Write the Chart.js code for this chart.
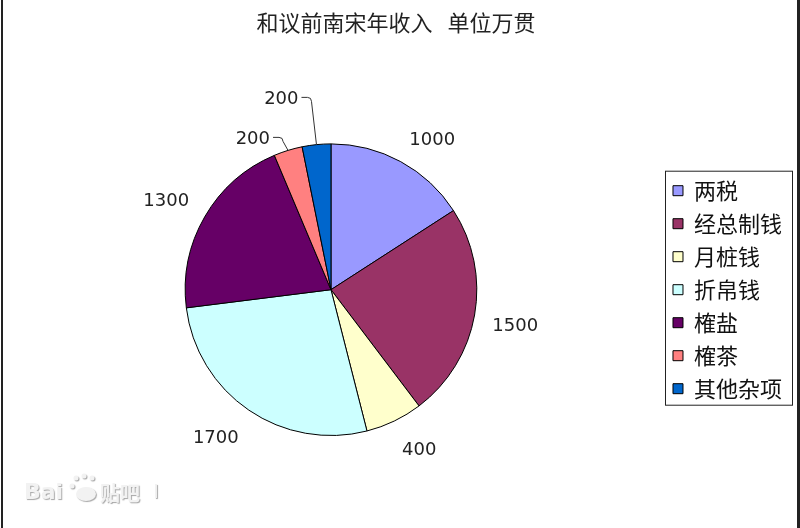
<!DOCTYPE html>
<html>
<head>
<meta charset="utf-8">
<script src="https://cdn.jsdelivr.net/npm/chart.js@4.4.0/dist/chart.umd.min.js"></script>
<style>
  html, body { margin: 0; padding: 0; background: #fff; }
  #wrap { width: 800px; height: 528px; position: relative; }
</style>
</head>
<body>
<div id="wrap"><canvas id="pie" width="800" height="528"></canvas></div>
<script>
// 数据
const titleText = '和议前南宋年收入   单位万贯';
const categories = ['两税', '经总制钱', '月桩钱', '折帛钱', '榷盐', '榷茶', '其他杂项'];
const values = [1000, 1500, 400, 1700, 1300, 200, 200];
const colors = ['#9999FF', '#993366', '#FFFFCC', '#CCFFFF', '#660066', '#FF8080', '#0066CC'];

// 数值标签（小扇区带引线）
const valueLabels = {
  id: 'valueLabels',
  afterDatasetsDraw(chart) {
    const ctx = chart.ctx;
    const meta = chart.getDatasetMeta(0);
    const total = values.reduce((a, b) => a + b, 0);
    let prevY = null;
    ctx.save();
    ctx.font = '18px "DejaVu Sans"';
    ctx.fillStyle = '#222';
    ctx.strokeStyle = '#333';
    ctx.lineWidth = 1;
    ctx.textBaseline = 'middle';
    meta.data.forEach((arc, i) => {
      const p = arc.getProps(['x', 'y', 'startAngle', 'endAngle', 'outerRadius'], true);
      const mid = (p.startAngle + p.endAngle) / 2;
      const cos = Math.cos(mid), sin = Math.sin(mid);
      const text = String(values[i]);
      const w = ctx.measureText(text).width;
      const h = 14;
      if (values[i] / total < 0.05) {
        const ax = p.x + cos * p.outerRadius;
        const ay = p.y + sin * p.outerRadius;
        let ly = ay - 13;
        if (prevY !== null) ly = Math.min(ly, prevY - 40);
        prevY = ly;
        const ex = ax - 5;
        ctx.beginPath();
        ctx.moveTo(ax, ay);
        ctx.lineTo(ex, ly + 4);
        ctx.quadraticCurveTo(ex, ly, ex - 4, ly);
        ctx.lineTo(ex - 10, ly);
        ctx.stroke();
        ctx.textAlign = 'right';
        ctx.fillText(text, ex - 13, ly + 2);
      } else {
        const d = p.outerRadius + 18;
        const cx = p.x + cos * d + Math.sign(cos) * w / 2;
        const cy = p.y + sin * d + Math.sign(sin) * h / 2 + (sin > 0.5 ? 5 : 0);
        ctx.textAlign = 'center';
        ctx.fillText(text, cx, cy + 1);
      }
    });
    ctx.restore();
  }
};

// 图例边框、水印和左右边线
const frame = {
  id: 'frame',
  afterDraw(chart) {
    const ctx = chart.ctx;
    const lg = chart.legend;
    const boxes = lg.legendHitBoxes;
    const first = boxes[0], last = boxes[boxes.length - 1];
    const top = first.top + first.height / 2 - 20;
    const bottom = last.top + last.height / 2 + 16;
    ctx.save();
    ctx.strokeStyle = '#222';
    ctx.lineWidth = 1;
    ctx.strokeRect(lg.left + 3.5, top + 0.5, 127, bottom - top);

    // watermark
    ctx.font = 'bold 22px "DejaVu Sans"';
    ctx.textBaseline = 'middle';
    ctx.textAlign = 'left';
    ctx.shadowColor = 'rgba(0,0,0,0.35)';
    ctx.shadowOffsetX = 1;
    ctx.shadowOffsetY = 1;
    ctx.shadowBlur = 1;
    ctx.fillStyle = '#f2f2f2';
    ctx.fillText('Bai', 24, 493);
    ctx.beginPath();
    [[76, 478], [84, 476], [92, 478], [72, 486]].forEach(([x, y]) => {
      ctx.moveTo(x + 2.5, y);
      ctx.arc(x, y, 2.5, 0, Math.PI * 2);
    });
    ctx.moveTo(96, 496);
    ctx.ellipse(86, 494, 10, 7, 0, 0, Math.PI * 2);
    ctx.fill();
    ctx.font = 'bold 20px "Noto Sans CJK SC"';
    ctx.fillText('贴吧', 100, 493);
    ctx.font = '20px "DejaVu Sans"';
    ctx.fillText('I', 153, 493);
    ctx.restore();

    ctx.fillStyle = '#222';
    ctx.fillRect(1, 0, 2, 528);
    ctx.fillRect(797, 0, 3, 528);
  }
};

const ctx = document.getElementById('pie');

new Chart(ctx, {
  type: 'pie',
  data: {
    labels: categories,
    datasets: [{
      data: values,
      backgroundColor: colors,
      borderColor: '#000',
      borderWidth: 1
    }]
  },
  options: {
    responsive: false,
    animation: false,
    layout: {
      padding: { left: 0, right: 8, top: 0, bottom: 92 }
    },
    plugins: {
      title: {
        display: true,
        text: titleText,
        color: '#222',
        font: { family: '"Noto Sans CJK SC"', size: 22, weight: 'normal' },
        padding: { top: 9, bottom: 108 }
      },
      legend: {
        position: 'right',
        fullSize: false,
        labels: {
          boxWidth: 10,
          boxHeight: 10,
          padding: 11,
          color: '#111',
          font: { family: '"Noto Sans CJK SC"', size: 22 }
        }
      },
      tooltip: { enabled: false }
    }
  },
  plugins: [valueLabels, frame]
});
</script>
</body>
</html>
